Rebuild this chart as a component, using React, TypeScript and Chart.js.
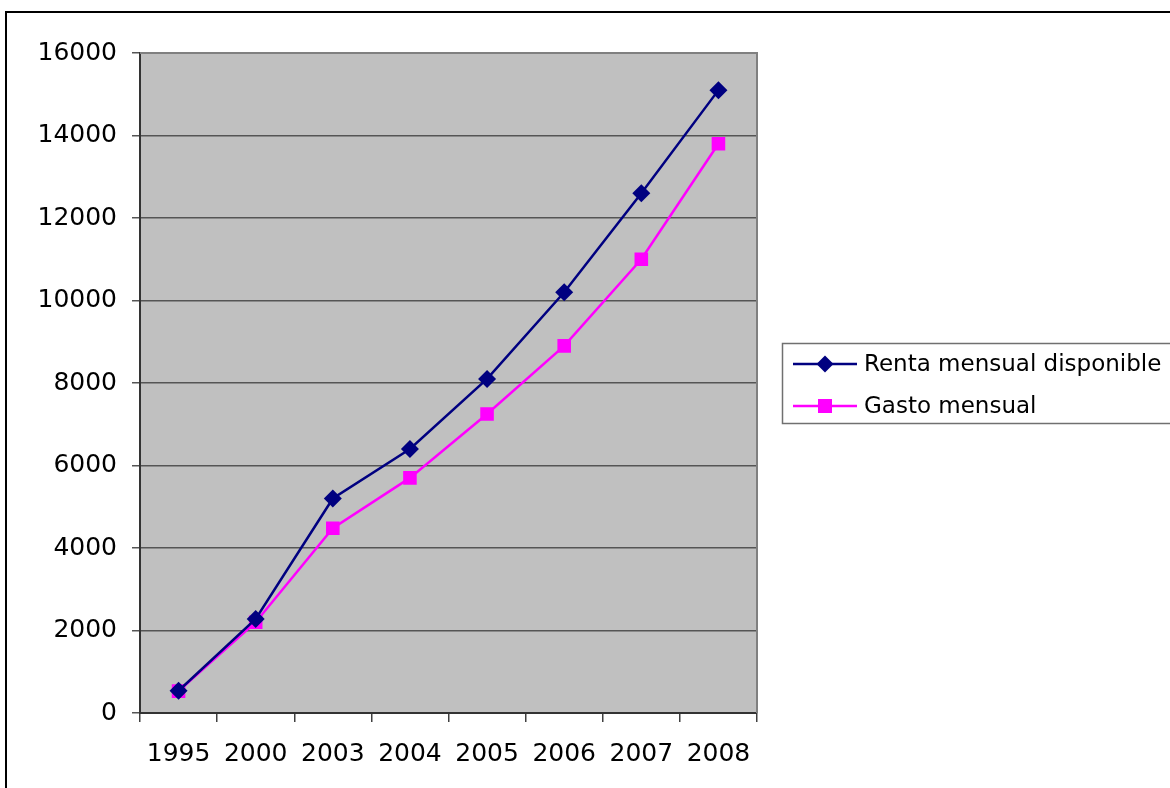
import React, { useEffect, useRef } from "react";
import { Chart, registerables } from "chart.js";

Chart.register(...registerables);

const categories: string[] = ["1995", "2000", "2003", "2004", "2005", "2006", "2007", "2008"];
const rentaLabel = "Renta mensual disponible";
const gastoLabel = "Gasto mensual";
const rentaValues: number[] = [540, 2280, 5200, 6400, 8100, 10200, 12600, 15100];
const gastoValues: number[] = [530, 2200, 4480, 5700, 7250, 8900, 11000, 13800];
const yMin = 0;
const yMax = 16000;
const yStep = 2000;

const FONT = "'DejaVu Sans', 'Liberation Sans', Arial, sans-serif";

const plotDecor = {
  id: "plotDecor",
  beforeDraw(chart: any) {
    const { ctx, chartArea } = chart;
    ctx.save();
    ctx.fillStyle = "#c0c0c0";
    ctx.fillRect(chartArea.left, chartArea.top, chartArea.right - chartArea.left, chartArea.bottom - chartArea.top);
    ctx.restore();
  },
  beforeDatasetsDraw(chart: any) {
    const { ctx, chartArea } = chart;
    ctx.save();
    ctx.strokeStyle = "#808080";
    ctx.lineWidth = 2;
    ctx.beginPath();
    ctx.moveTo(chartArea.left, chartArea.top);
    ctx.lineTo(chartArea.right, chartArea.top);
    ctx.lineTo(chartArea.right, chartArea.bottom);
    ctx.stroke();
    ctx.restore();
  },
  afterDraw(chart: any) {
    const { ctx } = chart;
    const boxLeft = 782;
    const boxTop = 343;
    const boxH = 80;
    ctx.save();
    ctx.strokeStyle = "#707070";
    ctx.lineWidth = 1.5;
    ctx.strokeRect(boxLeft + 0.5, boxTop + 0.5, 600, boxH);
    const rows = [364, 406];
    chart.data.datasets.forEach((ds: any, i: number) => {
      const y = rows[i];
      ctx.strokeStyle = ds.borderColor;
      ctx.lineWidth = 2.5;
      ctx.beginPath();
      ctx.moveTo(793, y);
      ctx.lineTo(857, y);
      ctx.stroke();
      ctx.fillStyle = ds.backgroundColor;
      ctx.beginPath();
      if (ds.pointStyle === "rectRot") {
        const r = 8.5;
        ctx.moveTo(825, y - r);
        ctx.lineTo(825 + r, y);
        ctx.lineTo(825, y + r);
        ctx.lineTo(825 - r, y);
        ctx.closePath();
      } else {
        ctx.rect(825 - 7, y - 7, 14, 14);
      }
      ctx.fill();
      ctx.fillStyle = "#000000";
      ctx.font = `23px ${FONT}`;
      ctx.textBaseline = "middle";
      ctx.textAlign = "left";
      ctx.fillText(ds.label, 864, y + 1);
    });
    ctx.restore();
  },
};

export default function App() {
  const canvasRef = useRef<HTMLCanvasElement | null>(null);

  useEffect(() => {
    const canvas = canvasRef.current;
    if (!canvas) return;
    const chart = new Chart(canvas, {
      type: "line",
      data: {
        labels: categories,
        datasets: [
          {
            label: rentaLabel,
            data: rentaValues,
            borderColor: "#000080",
            backgroundColor: "#000080",
            borderWidth: 2.5,
            pointStyle: "rectRot",
            pointRadius: 9,
            pointBorderWidth: 0,
            tension: 0,
          },
          {
            label: gastoLabel,
            data: gastoValues,
            borderColor: "#ff00ff",
            backgroundColor: "#ff00ff",
            borderWidth: 2.5,
            pointStyle: "rect",
            pointRadius: 9.6,
            pointBorderWidth: 0,
            tension: 0,
          },
        ],
      },
      options: {
        responsive: false,
        animation: false,
        layout: { padding: { top: 53, right: 413, left: 0, bottom: 0 } },
        plugins: {
          legend: { display: false },
          tooltip: { enabled: false },
        },
        scales: {
          x: {
            type: "category",
            offset: true,
            grid: {
              offset: true,
              drawOnChartArea: false,
              drawTicks: true,
              tickLength: 9,
              color: "#404040",
              lineWidth: 1.5,
            },
            border: { display: true, color: "#333333", width: 2 },
            ticks: {
              color: "#000000",
              font: { family: FONT, size: 25 },
              padding: 17,
              maxRotation: 0,
              autoSkip: false,
            },
            afterFit(scale: any) {
              scale.height = 75;
            },
          },
          y: {
            min: yMin,
            max: yMax,
            grid: {
              color: "#555555",
              lineWidth: 1.5,
              tickLength: 8,
              drawTicks: true,
            },
            border: { display: true, color: "#333333", width: 2 },
            ticks: {
              stepSize: yStep,
              color: "#000000",
              font: { family: FONT, size: 25 },
              padding: 15,
              callback: (value: any) => String(value),
            },
            afterFit(scale: any) {
              scale.width = 140;
            },
          },
        },
      },
      plugins: [plotDecor],
    });
    return () => chart.destroy();
  }, []);

  return (
    <div
      style={{
        position: "fixed",
        left: 0,
        top: 0,
        width: 1170,
        height: 788,
        overflow: "hidden",
        background: "#ffffff",
      }}
    >
      <div
        style={{
          position: "absolute",
          left: 5,
          top: 11,
          width: 1300,
          height: 900,
          border: "2px solid #000000",
          boxSizing: "border-box",
        }}
      />
      <canvas
        ref={canvasRef}
        width={1170}
        height={788}
        style={{ position: "absolute", left: 0, top: 0, width: 1170, height: 788 }}
      />
    </div>
  );
}
